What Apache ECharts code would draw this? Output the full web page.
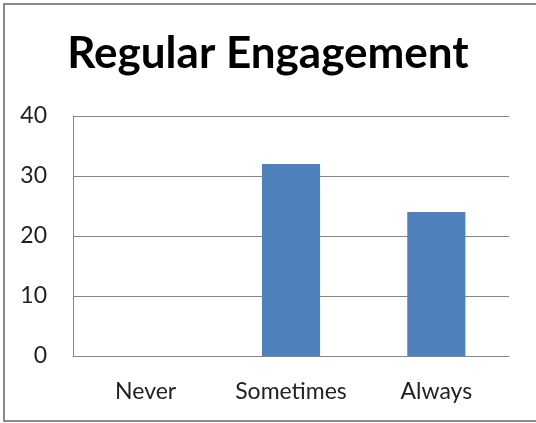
<!DOCTYPE html>
<html>
<head>
<meta charset="utf-8">
<script src="https://cdn.jsdelivr.net/npm/echarts@6/dist/echarts.min.js"></script>
<style>html,body{margin:0;padding:0;background:#fff;}#c{width:536px;height:423px;}</style>
</head>
<body>
<div id="c"></div>
<script>
const categories = ['Never', 'Sometimes', 'Always'];
const values = [0, 32, 24];
const titleText = 'Regular Engagement';

const chart = echarts.init(document.getElementById('c'), null, {renderer: 'canvas'});
chart.setOption({
  backgroundColor: '#fff',
  animation: false,
  title: {
    text: titleText,
    left: 'center',
    top: 27,
    textStyle: {fontFamily: 'Lato', fontWeight: 'bold', fontSize: 44, color: '#000'}
  },
  graphic: [{
    type: 'rect',
    shape: {x: 4, y: 4, width: 540, height: 417},
    style: {fill: 'none', stroke: '#8a8a8a', lineWidth: 2},
    silent: true
  }],
  grid: {left: 73, right: 27, top: 116, bottom: 67, containLabel: false},
  xAxis: {
    type: 'category',
    data: categories,
    axisLine: {show: true, lineStyle: {color: '#868686', width: 1}},
    axisTick: {show: false},
    axisLabel: {fontFamily: 'Lato', fontSize: 23, color: '#222', margin: 24}
  },
  yAxis: {
    type: 'value',
    min: 0, max: 40, interval: 10,
    axisLine: {show: true, lineStyle: {color: '#868686', width: 1}},
    axisTick: {show: false},
    splitLine: {show: true, lineStyle: {color: '#868686', width: 1}},
    axisLabel: {fontFamily: 'Lato', fontSize: 23, color: '#222', margin: 26}
  },
  series: [{
    type: 'bar',
    data: values,
    barWidth: '40%',
    itemStyle: {color: '#4F81BD'}
  }]
});
</script>
</body>
</html>
